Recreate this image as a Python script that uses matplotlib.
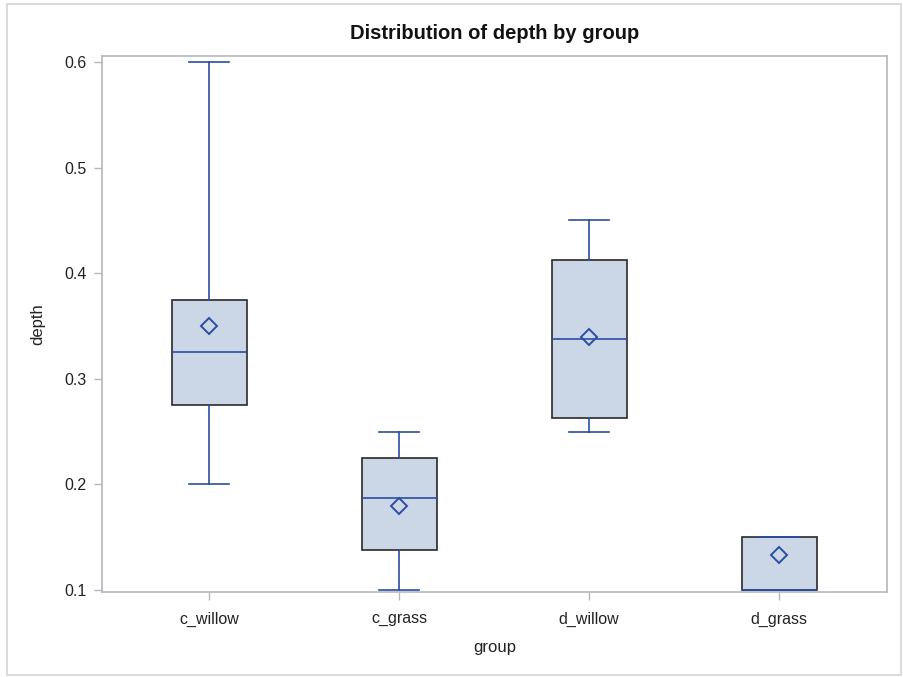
#!/usr/bin/env python3
"""Box plot of depth by group, SAS-style."""

import matplotlib
matplotlib.use("Agg")
import matplotlib.pyplot as plt
from matplotlib.patches import Rectangle

plt.rcParams['font.family'] = ['Liberation Sans', 'DejaVu Sans']

GROUPS = ["c_willow", "c_grass", "d_willow", "d_grass"]
WHIS_LO = [0.20, 0.10, 0.25, 0.10]
Q1 = [0.275, 0.1375, 0.2625, 0.10]
MEDIAN = [0.325, 0.1875, 0.3375, 0.10]
Q3 = [0.375, 0.225, 0.4125, 0.15]
WHIS_HI = [0.60, 0.25, 0.45, 0.15]
MEAN = [0.35, 0.18, 0.34, 0.1333]

BLUE = '#2b4ea3'
FILL = '#cbd6e6'
FRAME = '#b4b8bc'

W, H = 904, 677
fig = plt.figure(figsize=(W / 100, H / 100), dpi=100)
ax = fig.add_axes([102 / W, 1 - 592 / H, (887 - 102) / W, (592 - 56) / H])

stats = []
for g, lo, q1, med, q3, hi, mn in zip(GROUPS, WHIS_LO, Q1, MEDIAN, Q3, WHIS_HI, MEAN):
    stats.append({"label": g, "whislo": lo, "q1": q1, "med": med,
                  "q3": q3, "whishi": hi, "mean": mn, "fliers": []})

ax.bxp(stats, positions=range(len(GROUPS)), widths=0.395, patch_artist=True,
       showmeans=True, showfliers=False,
       boxprops=dict(facecolor=FILL, edgecolor='#2a2a2a', linewidth=1.2),
       medianprops=dict(color=BLUE, linewidth=1.2),
       whiskerprops=dict(color=BLUE, linewidth=1.2),
       capprops=dict(color=BLUE, linewidth=1.2),
       capwidths=0.21,
       meanprops=dict(marker='D', markersize=8, markerfacecolor='none',
                      markeredgecolor=BLUE, markeredgewidth=1.4))

ax.set_xlim(-0.565, 3.568)
ax.set_ylim(0.0981, 0.6057)
ax.set_yticks([0.1, 0.2, 0.3, 0.4, 0.5, 0.6])
ax.set_yticklabels(["0.1", "0.2", "0.3", "0.4", "0.5", "0.6"])
ax.set_xticks(range(len(GROUPS)))
ax.set_xticklabels(GROUPS)

for s in ax.spines.values():
    s.set_color(FRAME)
    s.set_linewidth(1.2)
ax.tick_params(axis='both', colors=FRAME, labelcolor='#222222', labelsize=11.5,
               length=6, width=1.0)
ax.tick_params(axis='x', pad=8)
ax.tick_params(axis='y', pad=5)

ax.set_xlabel("group", fontsize=12, color='#222222', labelpad=10)
ax.set_ylabel("depth", fontsize=12, color='#222222', labelpad=14)
ax.set_title("Distribution of depth by group", fontsize=14.5, fontweight='bold',
             color='#111111', pad=12)

# light border around the whole graph
fig.patches.append(Rectangle((7 / W, 1 - 675 / H), (901 - 7) / W, (675 - 4) / H,
                             transform=fig.transFigure, fill=False,
                             edgecolor='#d4d4d4', linewidth=1.2))

fig.savefig("out.png", dpi=100, facecolor='white')
